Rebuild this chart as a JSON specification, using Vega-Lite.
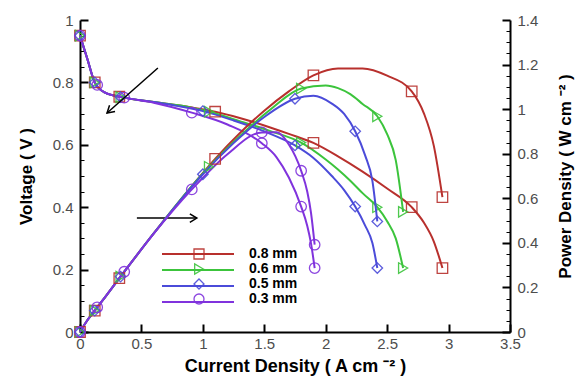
{
  "$schema": "https://vega.github.io/schema/vega-lite/v6.json",
  "width": 430,
  "height": 312,
  "autosize": {"type": "none"},
  "padding": {"left": 80, "top": 20, "right": 72, "bottom": 49},
  "background": "white",
  "config": {
    "view": {"stroke": null},
    "font": "Liberation Sans",
    "axis": {
      "grid": false,
      "domainColor": "black",
      "domainWidth": 2,
      "tickColor": "black",
      "labelColor": "#4d4d4d",
      "labelFontSize": 15,
      "titleFontSize": 17,
      "titleFontWeight": "bold",
      "titleColor": "black",
      "labelOverlap": false,
      "labelFlush": false
    }
  },
  "datasets": {
    "curves": [
      {"s": "0.8 mm", "I": 0, "V": 0.95, "P": 0},
      {"s": "0.8 mm", "I": 0.06, "V": 0.875, "P": 0.0525},
      {"s": "0.8 mm", "I": 0.12, "V": 0.8, "P": 0.096},
      {"s": "0.8 mm", "I": 0.2, "V": 0.768, "P": 0.1536},
      {"s": "0.8 mm", "I": 0.35, "V": 0.752, "P": 0.2632},
      {"s": "0.8 mm", "I": 0.6, "V": 0.737, "P": 0.4422},
      {"s": "0.8 mm", "I": 0.9, "V": 0.72, "P": 0.648},
      {"s": "0.8 mm", "I": 1.1, "V": 0.706, "P": 0.7766},
      {"s": "0.8 mm", "I": 1.3, "V": 0.686, "P": 0.8918},
      {"s": "0.8 mm", "I": 1.5, "V": 0.662, "P": 0.993},
      {"s": "0.8 mm", "I": 1.7, "V": 0.635, "P": 1.0795},
      {"s": "0.8 mm", "I": 1.9, "V": 0.606, "P": 1.1514},
      {"s": "0.8 mm", "I": 2.1, "V": 0.563, "P": 1.1823},
      {"s": "0.8 mm", "I": 2.3, "V": 0.514, "P": 1.1822},
      {"s": "0.8 mm", "I": 2.5, "V": 0.46, "P": 1.15},
      {"s": "0.8 mm", "I": 2.7, "V": 0.4, "P": 1.08},
      {"s": "0.8 mm", "I": 2.8, "V": 0.35, "P": 0.98},
      {"s": "0.8 mm", "I": 2.88, "V": 0.29, "P": 0.8352},
      {"s": "0.8 mm", "I": 2.95, "V": 0.205, "P": 0.6048},

      {"s": "0.6 mm", "I": 0, "V": 0.95, "P": 0},
      {"s": "0.6 mm", "I": 0.06, "V": 0.875, "P": 0.0525},
      {"s": "0.6 mm", "I": 0.12, "V": 0.8, "P": 0.096},
      {"s": "0.6 mm", "I": 0.2, "V": 0.768, "P": 0.1536},
      {"s": "0.6 mm", "I": 0.35, "V": 0.752, "P": 0.2632},
      {"s": "0.6 mm", "I": 0.6, "V": 0.737, "P": 0.4422},
      {"s": "0.6 mm", "I": 0.9, "V": 0.72, "P": 0.648},
      {"s": "0.6 mm", "I": 1.05, "V": 0.706, "P": 0.7413},
      {"s": "0.6 mm", "I": 1.3, "V": 0.676, "P": 0.8788},
      {"s": "0.6 mm", "I": 1.55, "V": 0.644, "P": 0.9982},
      {"s": "0.6 mm", "I": 1.8, "V": 0.607, "P": 1.0926},
      {"s": "0.6 mm", "I": 2.0, "V": 0.553, "P": 1.106},
      {"s": "0.6 mm", "I": 2.1, "V": 0.521, "P": 1.0941},
      {"s": "0.6 mm", "I": 2.2, "V": 0.485, "P": 1.067},
      {"s": "0.6 mm", "I": 2.3, "V": 0.445, "P": 1.0235},
      {"s": "0.6 mm", "I": 2.42, "V": 0.4, "P": 0.968},
      {"s": "0.6 mm", "I": 2.5, "V": 0.355, "P": 0.8875},
      {"s": "0.6 mm", "I": 2.57, "V": 0.3, "P": 0.771},
      {"s": "0.6 mm", "I": 2.63, "V": 0.205, "P": 0.5392},

      {"s": "0.5 mm", "I": 0, "V": 0.95, "P": 0},
      {"s": "0.5 mm", "I": 0.06, "V": 0.875, "P": 0.0525},
      {"s": "0.5 mm", "I": 0.12, "V": 0.8, "P": 0.096},
      {"s": "0.5 mm", "I": 0.2, "V": 0.768, "P": 0.1536},
      {"s": "0.5 mm", "I": 0.35, "V": 0.752, "P": 0.2632},
      {"s": "0.5 mm", "I": 0.6, "V": 0.737, "P": 0.4422},
      {"s": "0.5 mm", "I": 0.8, "V": 0.724, "P": 0.5792},
      {"s": "0.5 mm", "I": 1.0, "V": 0.708, "P": 0.708},
      {"s": "0.5 mm", "I": 1.25, "V": 0.678, "P": 0.8475},
      {"s": "0.5 mm", "I": 1.5, "V": 0.643, "P": 0.9645},
      {"s": "0.5 mm", "I": 1.75, "V": 0.598, "P": 1.0465},
      {"s": "0.5 mm", "I": 1.9, "V": 0.558, "P": 1.0602},
      {"s": "0.5 mm", "I": 2.05, "V": 0.5, "P": 1.025},
      {"s": "0.5 mm", "I": 2.15, "V": 0.455, "P": 0.9783},
      {"s": "0.5 mm", "I": 2.24, "V": 0.402, "P": 0.9005},
      {"s": "0.5 mm", "I": 2.32, "V": 0.342, "P": 0.7934},
      {"s": "0.5 mm", "I": 2.38, "V": 0.285, "P": 0.6783},
      {"s": "0.5 mm", "I": 2.42, "V": 0.205, "P": 0.4961},

      {"s": "0.3 mm", "I": 0, "V": 0.95, "P": 0},
      {"s": "0.3 mm", "I": 0.06, "V": 0.875, "P": 0.0525},
      {"s": "0.3 mm", "I": 0.12, "V": 0.8, "P": 0.096},
      {"s": "0.3 mm", "I": 0.2, "V": 0.768, "P": 0.1536},
      {"s": "0.3 mm", "I": 0.35, "V": 0.752, "P": 0.2632},
      {"s": "0.3 mm", "I": 0.6, "V": 0.735, "P": 0.441},
      {"s": "0.3 mm", "I": 0.91, "V": 0.703, "P": 0.6397},
      {"s": "0.3 mm", "I": 1.2, "V": 0.665, "P": 0.798},
      {"s": "0.3 mm", "I": 1.48, "V": 0.605, "P": 0.8954},
      {"s": "0.3 mm", "I": 1.6, "V": 0.56, "P": 0.896},
      {"s": "0.3 mm", "I": 1.7, "V": 0.495, "P": 0.8415},
      {"s": "0.3 mm", "I": 1.8, "V": 0.402, "P": 0.7236},
      {"s": "0.3 mm", "I": 1.85, "V": 0.34, "P": 0.629},
      {"s": "0.3 mm", "I": 1.88, "V": 0.285, "P": 0.5358},
      {"s": "0.3 mm", "I": 1.91, "V": 0.205, "P": 0.3916}
    ],
    "markers": [
      {"s": "0.8 mm", "I": 0, "V": 0.95, "P": 0},
      {"s": "0.8 mm", "I": 0.12, "V": 0.8, "P": 0.096},
      {"s": "0.8 mm", "I": 0.32, "V": 0.754, "P": 0.2413},
      {"s": "0.8 mm", "I": 1.1, "V": 0.706, "P": 0.7766},
      {"s": "0.8 mm", "I": 1.9, "V": 0.606, "P": 1.1514},
      {"s": "0.8 mm", "I": 2.7, "V": 0.4, "P": 1.08},
      {"s": "0.8 mm", "I": 2.95, "V": 0.205, "P": 0.6048},
      {"s": "0.6 mm", "I": 0, "V": 0.95, "P": 0},
      {"s": "0.6 mm", "I": 0.12, "V": 0.8, "P": 0.096},
      {"s": "0.6 mm", "I": 0.33, "V": 0.753, "P": 0.2485},
      {"s": "0.6 mm", "I": 1.05, "V": 0.706, "P": 0.7413},
      {"s": "0.6 mm", "I": 1.8, "V": 0.607, "P": 1.0926},
      {"s": "0.6 mm", "I": 2.42, "V": 0.4, "P": 0.968},
      {"s": "0.6 mm", "I": 2.63, "V": 0.205, "P": 0.5392},
      {"s": "0.5 mm", "I": 0, "V": 0.95, "P": 0},
      {"s": "0.5 mm", "I": 0.12, "V": 0.8, "P": 0.096},
      {"s": "0.5 mm", "I": 0.33, "V": 0.753, "P": 0.2485},
      {"s": "0.5 mm", "I": 1.0, "V": 0.708, "P": 0.708},
      {"s": "0.5 mm", "I": 1.75, "V": 0.598, "P": 1.0465},
      {"s": "0.5 mm", "I": 2.24, "V": 0.402, "P": 0.9005},
      {"s": "0.5 mm", "I": 2.42, "V": 0.205, "P": 0.4961},
      {"s": "0.3 mm", "I": 0, "V": 0.95, "P": 0},
      {"s": "0.3 mm", "I": 0.14, "V": 0.792, "P": 0.1109},
      {"s": "0.3 mm", "I": 0.36, "V": 0.751, "P": 0.2704},
      {"s": "0.3 mm", "I": 0.91, "V": 0.703, "P": 0.6397},
      {"s": "0.3 mm", "I": 1.48, "V": 0.605, "P": 0.8954},
      {"s": "0.3 mm", "I": 1.8, "V": 0.402, "P": 0.7236},
      {"s": "0.3 mm", "I": 1.91, "V": 0.205, "P": 0.3916}
    ],
    "arrows": [
      {"id": "a", "x": 0.634, "y": 0.846, "x2": 0.22, "y2": 0.702},
      {"id": "b", "x": 0.463, "y": 0.365, "x2": 0.951, "y2": 0.365}
    ]
  },
  "layer": [
    {
      "data": {"name": "curves"},
      "mark": {"type": "line", "interpolate": "monotone", "strokeWidth": 2},
      "encoding": {
        "x": {
          "field": "I", "type": "quantitative",
          "scale": {"domain": [0, 3.5], "nice": false, "zero": false},
          "axis": {
            "title": "Current Density ( A cm ⁻² )",
            "titleFontSize": 18,
            "values": [0, 0.5, 1, 1.5, 2, 2.5, 3, 3.5],
            "tickCount": 8,
            "format": "~g",
            "labelOverlap": false,
            "labelFlush": false,
            "tickSize": -8,
            "tickWidth": 2,
            "labelPadding": 12,
            "titlePadding": 6
          }
        },
        "y": {
          "field": "V", "type": "quantitative",
          "scale": {"domain": [0, 1], "nice": false, "zero": false},
          "axis": {
            "orient": "left",
            "title": "Voltage ( V )",
            "values": [0,0.05,0.1,0.15,0.2,0.25,0.3,0.35,0.4,0.45,0.5,0.55,0.6,0.65,0.7,0.75,0.8,0.85,0.9,0.95,1],
            "labelExpr": "abs(datum.value*5-round(datum.value*5))<0.001 ? format(datum.value,'~g') : ''",
            "labelOverlap": false,
            "tickSize": {"condition": {"test": "abs(datum.value*5-round(datum.value*5))<0.001", "value": -8}, "value": -4},
            "tickWidth": {"condition": {"test": "abs(datum.value*5-round(datum.value*5))<0.001", "value": 2}, "value": 1},
            "labelPadding": 15,
            "titlePadding": 17
          }
        },
        "stroke": {
          "field": "s", "type": "nominal",
          "scale": {"domain": ["0.8 mm", "0.6 mm", "0.5 mm", "0.3 mm", "none"], "range": ["#b8302d", "#3cc43c", "#4b4bd9", "#8033dd", "#000000"]},
          "legend": {
            "orient": "none", "legendX": 109, "legendY": 225, "title": null, "padding": 0,
            "values": ["0.8 mm", "0.6 mm", "0.5 mm", "0.3 mm"],
            "symbolType": "M-4.5,0H4.5", "symbolSize": 256, "symbolStrokeWidth": 2,
            "labelExpr": "''", "labelFontSize": 14, "labelOffset": 0, "rowPadding": 0
          }
        }
      }
    },
    {
      "data": {"name": "markers"},
      "mark": {"type": "point", "filled": false, "size": 110, "strokeWidth": 1.3, "opacity": 0.9},
      "encoding": {
        "x": {"field": "I", "type": "quantitative"},
        "y": {"field": "V", "type": "quantitative", "scale": {"domain": [0, 1], "nice": false, "zero": false}, "axis": null},
        "color": {
          "field": "s", "type": "nominal",
          "scale": {"domain": ["0.8 mm", "0.6 mm", "0.5 mm", "0.3 mm"], "range": ["#b8302d", "#3cc43c", "#4b4bd9", "#8033dd"]},
          "legend": {
            "orient": "none", "legendX": 112, "legendY": 227, "title": null, "padding": 0,
            "symbolSize": 100, "symbolStrokeWidth": 1.3,
            "labelFontSize": 14, "labelFontWeight": "bold", "labelFont": "Liberation Sans",
            "labelColor": "black", "labelOffset": 43, "rowPadding": -1
          }
        },
        "shape": {
          "field": "s", "type": "nominal",
          "scale": {"domain": ["0.8 mm", "0.6 mm", "0.5 mm", "0.3 mm"], "range": ["square", "triangle-right", "diamond", "circle"]},
          "legend": {
            "orient": "none", "legendX": 112, "legendY": 227, "title": null, "padding": 0,
            "symbolSize": 100, "symbolStrokeWidth": 1.3,
            "labelFontSize": 14, "labelFontWeight": "bold", "labelFont": "Liberation Sans",
            "labelColor": "black", "labelOffset": 43, "rowPadding": -1
          }
        }
      }
    },
    {
      "data": {"name": "arrows"},
      "mark": {"type": "rule", "color": "black", "strokeWidth": 1.5},
      "encoding": {
        "x": {"field": "x", "type": "quantitative"},
        "y": {"field": "y", "type": "quantitative", "scale": {"domain": [0, 1], "nice": false, "zero": false}, "axis": null},
        "x2": {"field": "x2"},
        "y2": {"field": "y2"}
      }
    },
    {
      "data": {"name": "arrows"},
      "transform": [{"filter": "datum.id === 'a'"}],
      "mark": {"type": "point", "shape": "M-2,-1.2L0,0L-2,1.2", "filled": false, "size": 49, "angle": 139, "color": "black", "strokeWidth": 1.5, "opacity": 1},
      "encoding": {
        "x": {"field": "x2", "type": "quantitative"},
        "y": {"field": "y2", "type": "quantitative", "scale": {"domain": [0, 1], "nice": false, "zero": false}, "axis": null}
      }
    },
    {
      "data": {"name": "arrows"},
      "transform": [{"filter": "datum.id === 'b'"}],
      "mark": {"type": "point", "shape": "M-2,-1.2L0,0L-2,1.2", "filled": false, "size": 49, "angle": 0, "color": "black", "strokeWidth": 1.5, "opacity": 1},
      "encoding": {
        "x": {"field": "x2", "type": "quantitative"},
        "y": {"field": "y2", "type": "quantitative", "scale": {"domain": [0, 1], "nice": false, "zero": false}, "axis": null}
      }
    },
    {
      "data": {"name": "curves"},
      "mark": {"type": "line", "interpolate": "monotone", "strokeWidth": 2},
      "encoding": {
        "x": {"field": "I", "type": "quantitative"},
        "y": {
          "field": "P", "type": "quantitative",
          "scale": {"domain": [0, 1.4], "nice": false, "zero": false},
          "axis": {
            "orient": "right",
            "title": "Power Density ( W cm ⁻² )",
            "titleAngle": 270,
            "titleBaseline": "top",
            "values": [0,0.05,0.1,0.15,0.2,0.25,0.3,0.35,0.4,0.45,0.5,0.55,0.6,0.65,0.7,0.75,0.8,0.85,0.9,0.95,1,1.05,1.1,1.15,1.2,1.25,1.3,1.35,1.4],
            "labelExpr": "abs(datum.value*5-round(datum.value*5))<0.001 ? format(datum.value,'~g') : ''",
            "labelOverlap": false,
            "tickSize": {"condition": {"test": "abs(datum.value*5-round(datum.value*5))<0.001", "value": -8}, "value": -4},
            "tickWidth": {"condition": {"test": "abs(datum.value*5-round(datum.value*5))<0.001", "value": 2}, "value": 1},
            "labelPadding": 15,
            "titlePadding": 20
          }
        },
        "stroke": {"field": "s", "type": "nominal", "legend": null}
      }
    },
    {
      "data": {"name": "markers"},
      "mark": {"type": "point", "filled": false, "size": 110, "strokeWidth": 1.3, "opacity": 0.9},
      "encoding": {
        "x": {"field": "I", "type": "quantitative"},
        "y": {"field": "P", "type": "quantitative", "scale": {"domain": [0, 1.4], "nice": false, "zero": false}, "axis": null},
        "color": {"field": "s", "type": "nominal", "legend": null},
        "shape": {"field": "s", "type": "nominal", "legend": null}
      }
    }
  ],
  "resolve": {"scale": {"y": "independent"}}
}
